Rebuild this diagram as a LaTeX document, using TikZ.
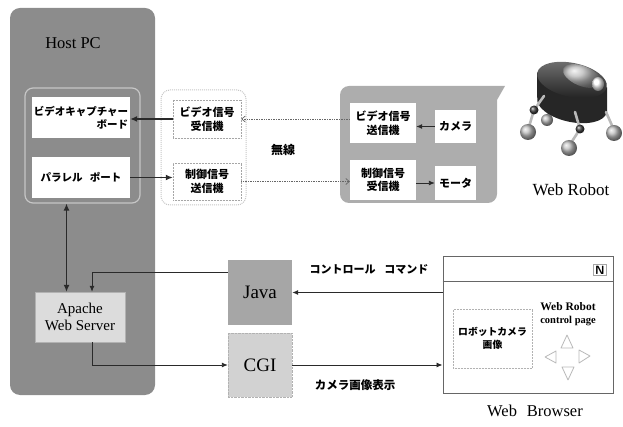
\documentclass[tikz,border=0pt]{standalone}
\usepackage{fontspec}
\setmainfont{Liberation Serif}
\newfontfamily\jp{Noto Sans CJK JP}
\usetikzlibrary{arrows.meta,calc}
\definecolor{hostgray}{HTML}{8C8C8C}
\definecolor{robotgray}{HTML}{ADADAD}
\definecolor{javagray}{HTML}{A6A6A6}
\definecolor{cgigray}{HTML}{D2D2D2}
\definecolor{apachegray}{HTML}{DCDCDC}
\definecolor{linegray}{HTML}{2A2A2A}
\newcommand\jpb{\jp\bfseries}
\newcommand\jsz[1]{\fontsize{#1}{13.5}\selectfont}
\begin{document}
\begin{tikzpicture}[x=1pt,y=-1pt,
  panel/.style={draw=none, fill=#1, minimum width=0pt, inner sep=0pt},
  wbox/.style={fill=white, inner sep=0pt, align=center, font=\jpb\jsz{11}},
  dbox/.style={wbox, draw=gray!70, densely dotted, line width=0.5pt},
  gbox/.style={draw=gray!60, fill=#1, inner sep=0pt, align=center},
  lbl/.style={inner sep=0pt, align=center},
  arr/.style={draw=linegray, line width=1.2pt, -{Latex[length=7pt,width=6pt]}},
  thin arr/.style={draw=linegray, line width=0.9pt, -{Latex[length=6pt,width=5pt]}},
  radio/.style={draw=gray!80!black, densely dotted, line width=0.7pt, -{Straight Barb[length=3.5pt,width=6pt]}},
  pad/.style={draw=gray!55, line width=0.8pt, fill=white, line join=round},
  leg/.style={draw=gray!55, line width=2.6pt, line cap=round}
]
\useasboundingbox (0,0) rectangle (623,427);

% ---- Host PC ----
\node[panel=hostgray, rounded corners=10pt, minimum width=145pt, minimum height=387pt] (host) at (82.5,201.5) {};
\node[lbl, font=\fontsize{16.5}{18}\selectfont] (hostlbl) at (73,43) {Host PC};
\node[draw=gray!45, line width=1.2pt, rounded corners=8pt, minimum width=115pt, minimum height=115pt] (inner) at (82.5,145.5) {};
\node[wbox, minimum width=98pt, minimum height=41pt, align=right, font=\jpb\jsz{10.5}] (cap) at (81,117.5) {ビデオキャプチャー\\ボード};
\node[wbox, minimum width=98pt, minimum height=41pt, font=\jpb\jsz{10.5}] (par) at (81,177.5) {パラレル\hspace{0.7em}ポート};

% ---- receiver / transmitter unit ----
\node[draw=gray!45, densely dotted, line width=1pt, rounded corners=9pt, minimum width=85pt, minimum height=115pt] (mid) at (203.5,147.5) {};
\node[dbox, minimum width=68pt, minimum height=38pt] (vrx) at (207,119) {ビデオ信号\\受信機};
\node[dbox, minimum width=68pt, minimum height=37pt] (ctx) at (207,181.5) {制御信号\\送信機};
\node[lbl, font=\jpb\jsz{12}] (musen) at (283,150) {無線};

% ---- robot side unit ----
\fill[robotgray, rounded corners=9pt] (505,86) -- (340,86) -- (340,203) -- (497,203) [sharp corners] -- (497,100) -- cycle;
\node[wbox, minimum width=66pt, minimum height=40pt] (vtx) at (383,123) {ビデオ信号\\送信機};
\node[wbox, minimum width=41pt, minimum height=33pt] (cam) at (455.5,126.5) {カメラ};
\node[wbox, minimum width=66pt, minimum height=40pt] (crx) at (383,180) {制御信号\\受信機};
\node[wbox, minimum width=41pt, minimum height=34pt] (mot) at (455.5,183) {モータ};

\draw[thin arr] (cam.west) -- (cam.west -| vtx.east);
\draw[thin arr] (crx.east |- mot.west) -- (mot.west);
\draw[radio] (vtx.west |- vrx.east) -- (vrx.east);
\draw[radio] (ctx.east) -- (ctx.east -| crx.west);
\draw[arr] (vrx.west) -- (vrx.west -| cap.east);
\draw[arr] (par.east) -- (par.east -| ctx.west);

% ---- web server side ----
\node[gbox=apachegray, minimum width=90pt, minimum height=50pt, font=\fontsize{15}{17}\selectfont] (apache) at (80,317) {Apache\\Web Server};
\node[gbox=javagray, draw=none, minimum width=64pt, minimum height=65pt, font=\fontsize{19}{21}\selectfont] (java) at (260,292.5) {Java};
\node[gbox=cgigray, densely dotted, minimum width=64pt, minimum height=64pt, font=\fontsize{19}{21}\selectfont] (cgi) at (260,365) {CGI};

\draw[arr, {Latex[length=7pt,width=6pt]}-{Latex[length=7pt,width=6pt]}] ([xshift=-16pt]inner.south) -- ([xshift=-16pt]inner.south |- apache.north);
\draw[thin arr] ([yshift=20pt]java.west) -| ([xshift=12pt]apache.north);
\draw[thin arr] ([xshift=12pt]apache.south) |- (cgi.west);

% ---- web browser ----
\node[draw=gray!80!black, line width=1pt, fill=white, minimum width=170pt, minimum height=136pt] (browser) at (528,325) {};
\draw[gray!80!black, line width=1pt] ($(browser.north west)+(0,25)$) -- ($(browser.north east)+(0,25)$);
\node[draw=gray!70, line width=0.6pt, inner sep=1.5pt, font=\sffamily\bfseries\fontsize{12}{12}\selectfont] (nlogo) at (600,270) {N};
\node[dbox, draw=gray!60, minimum width=79pt, minimum height=59pt, font=\jpb\jsz{9.8}] (camimg) at (492.5,338.5) {ロボットカメラ\\画像};
\node[lbl, font=\bfseries\fontsize{11.5}{14}\selectfont] (ctrlpage) at (568,314) {Web Robot\\[-1pt]{\fontsize{10.5}{12}\selectfont control page}};
\draw[pad] (567,335) -- (561,348) -- (573,348) -- cycle;
\draw[pad] (562,367) -- (574,367) -- (568,380) -- cycle;
\draw[pad] (545,357) -- (556,351) -- (556,363) -- cycle;
\draw[pad] (590,356) -- (579,350) -- (579,363) -- cycle;

\draw[thin arr] (java.east -| browser.west) -- (java.east);
\draw[thin arr] (cgi.east) -- (cgi.east -| browser.west);
\node[lbl, font=\jpb\jsz{11}] (cmdlbl) at (369,269) {コントロール\hspace{0.8em}コマンド};
\node[lbl, font=\jpb\jsz{11.5}] (imglbl) at (355,385) {カメラ画像表示};
\node[lbl, font=\fontsize{16.5}{18}\selectfont] (brlbl) at (535,411) {Web\hspace{0.6em}Browser};

% ---- robot ----
% rear leg
\draw[leg] (551,104) -- (547,119);
\shade[ball color=gray!55] (547,120) circle (6pt);
% body: tilted oval cylinder
\fill[black!85] (537,72.5) -- (607,87.5) -- (607,112.5) -- (537,97.5) -- cycle;
\fill[black!85, rotate around={-12:(572,105)}] (572,105) ellipse (35.5pt and 17pt);
\shade[rotate around={-12:(572,80)}, top color=black!55, bottom color=black!85] (572,80) ellipse (35.5pt and 17pt);
% camera hump with lens
\shade[rotate around={-22:(582,76)}, ball color=gray!55] (582,76) ellipse (20pt and 10pt);
\shade[ball color=white] (598,84) ellipse (6pt and 7pt);
% front legs with joints and feet
\draw[leg] (544,96) -- (534,110) -- (528,130);
\shade[ball color=black!75] (534,110) circle (4.5pt);
\shade[ball color=gray!50] (528,132) circle (8pt);
\draw[leg] (575,112) -- (580,129) -- (569,146);
\shade[ball color=black!75] (580,129) circle (4.5pt);
\shade[ball color=gray!50] (569,148) circle (8pt);
\draw[leg] (606,112) -- (614,130);
\shade[ball color=gray!50] (614,133) circle (8pt);
\node[lbl, font=\fontsize{17}{18}\selectfont] (robotlbl) at (571,190) {Web Robot};
\end{tikzpicture}
\end{document}
